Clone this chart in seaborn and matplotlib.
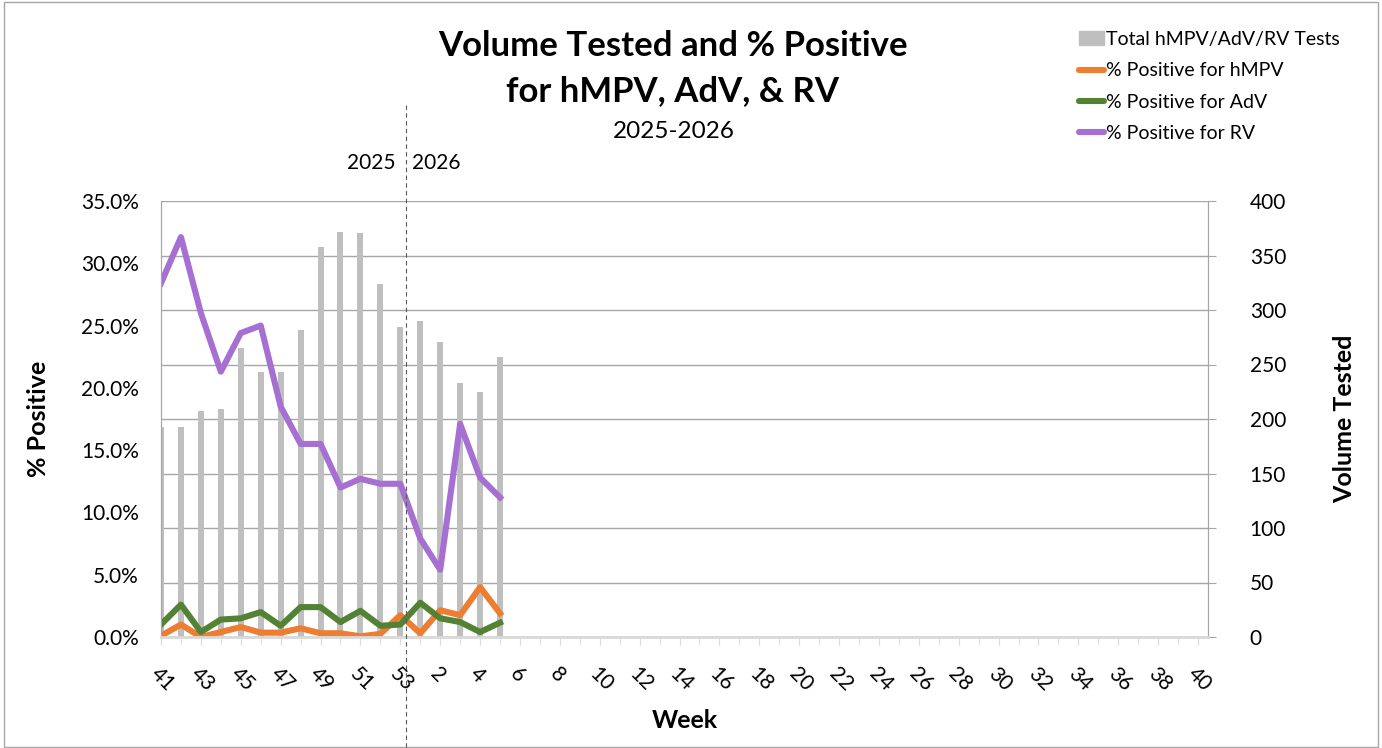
import matplotlib
matplotlib.use("Agg")
import matplotlib.pyplot as plt
import seaborn as sns
import numpy as np
from matplotlib.lines import Line2D
from matplotlib.patches import Rectangle, Patch

# Weeks of the 2025-2026 season
weeks = list(range(41, 54)) + list(range(1, 41))

# Total tests (right axis), weeks 41..53, 1..5
total_tests = [193, 193, 207, 209, 265, 243, 243, 282, 358, 372, 371, 324, 284,
               290, 271, 233, 225, 257]

# % positive (as fractions)
pct_hmpv = [0.001, 0.010, 0.000, 0.004, 0.008, 0.0035, 0.0035, 0.007, 0.003, 0.003,
            0.0005, 0.0025, 0.0175, 0.003, 0.0215, 0.0175, 0.040, 0.019]
pct_adv = [0.010, 0.026, 0.004, 0.014, 0.015, 0.020, 0.009, 0.024, 0.024, 0.012,
           0.021, 0.009, 0.010, 0.0275, 0.015, 0.012, 0.004, 0.0115]
pct_rv = [0.284, 0.321, 0.260, 0.213, 0.244, 0.250, 0.185, 0.155, 0.155, 0.120,
          0.127, 0.123, 0.123, 0.079, 0.054, 0.171, 0.128, 0.112]

c_bar = "#BFBFBF"
c_hmpv = "#ED7D31"
c_adv = "#548235"
c_rv = "#A66FD2"

plt.rcParams["font.family"] = ["Lato", "DejaVu Sans"]

fig = plt.figure(figsize=(13.82, 7.48), dpi=100)
ax = fig.add_axes([161 / 1382, 1 - 637 / 748, (1208 - 161) / 1382, (637 - 201) / 748])
ax2 = ax.twinx()

pos = np.arange(len(total_tests))

# bars on the right axis, drawn behind the lines
sns.barplot(x=pos, y=total_tests, ax=ax2, color=c_bar, width=0.3,
            native_scale=True, saturation=1)
ax2.set_ylim(0, 400)
ax2.set_yticks(range(0, 401, 50))
ax2.grid(axis="y", color="#A6A6A6", lw=1)
ax2.set_axisbelow(True)
ax2.set_ylabel("Volume Tested", fontsize=18, fontweight="bold", labelpad=34)
ax2.tick_params(axis="y", labelsize=15, length=6, color="#A6A6A6", pad=24, direction="out")

# lines on the left axis
lw = 4.4
sns.lineplot(x=pos, y=pct_hmpv, ax=ax, color=c_hmpv, lw=lw)
sns.lineplot(x=pos, y=pct_adv, ax=ax, color=c_adv, lw=lw)
sns.lineplot(x=pos, y=pct_rv, ax=ax, color=c_rv, lw=lw)
ax.set_zorder(ax2.get_zorder() + 1)
ax.patch.set_visible(False)

ax.set_ylim(0, 0.35)
ax.set_yticks(np.arange(0, 0.351, 0.05))
ax.set_yticklabels([f"{v * 100:.1f}%" for v in np.arange(0, 0.351, 0.05)])
ax.tick_params(axis="y", labelsize=15, length=0, pad=16)
ax.set_ylabel("% Positive", fontsize=18, fontweight="bold", labelpad=22)

ax.set_xlim(0, 52.5)
ax2.set_xlim(0, 52.5)
ax.set_xticks(range(0, len(weeks), 2))
ax.set_xticklabels([str(w) for w in weeks[::2]], rotation=-45, ha="left",
                   rotation_mode="anchor", fontsize=15)
ax.set_xticks(range(len(weeks)), minor=True)
ax.tick_params(axis="x", which="both", length=6, color="#D9D9D9", pad=13)
ax.set_xlabel("Week", fontsize=18, fontweight="bold", labelpad=10)
ax2.tick_params(axis="x", bottom=False, labelbottom=False)

for a in (ax, ax2):
    for s in a.spines.values():
        s.set_color("#A6A6A6")
    a.spines["top"].set_visible(False)
ax.spines["bottom"].set_color("#D9D9D9")
ax.spines["bottom"].set_linewidth(2)

# titles
fig.text(673 / 1382, 1 - 46 / 748, "Volume Tested and % Positive", ha="center", va="center",
         fontsize=25, fontweight="bold")
fig.text(673 / 1382, 1 - 91 / 748, "for hMPV, AdV, & RV", ha="center", va="center",
         fontsize=25, fontweight="bold")
fig.text(674 / 1382, 1 - 132 / 748, "2025-2026", ha="center", va="center", fontsize=17.5)
fig.text(396 / 1382, 1 - 163 / 748, "2025", ha="right", va="center", fontsize=15)
fig.text(412 / 1382, 1 - 163 / 748, "2026", ha="left", va="center", fontsize=15)

# season divider
fig.add_artist(Line2D([406 / 1382, 406 / 1382], [1 - 105 / 748, 0], transform=fig.transFigure,
                      color="#595959", lw=0.8, ls=(0, (4, 3))))

# legend
handles = [Patch(color=c_bar),
           Line2D([], [], color=c_hmpv, lw=lw, solid_capstyle="round"),
           Line2D([], [], color=c_adv, lw=lw, solid_capstyle="round"),
           Line2D([], [], color=c_rv, lw=lw, solid_capstyle="round")]
labels = ["Total hMPV/AdV/RV Tests", "% Positive for hMPV", "% Positive for AdV",
          "% Positive for RV"]
fig.legend(handles, labels, loc="upper left", bbox_to_anchor=(1079 / 1382, 1 - 31 / 748),
           frameon=False, fontsize=14, handlelength=1.3, handletextpad=0.1,
           labelspacing=0.74, borderaxespad=0, borderpad=0)

# outer border
fig.add_artist(Rectangle((0.003, 0.002), 0.994, 0.995, transform=fig.transFigure,
                         fill=False, edgecolor="#A6A6A6", lw=1))

fig.savefig("out.png", dpi=100)
